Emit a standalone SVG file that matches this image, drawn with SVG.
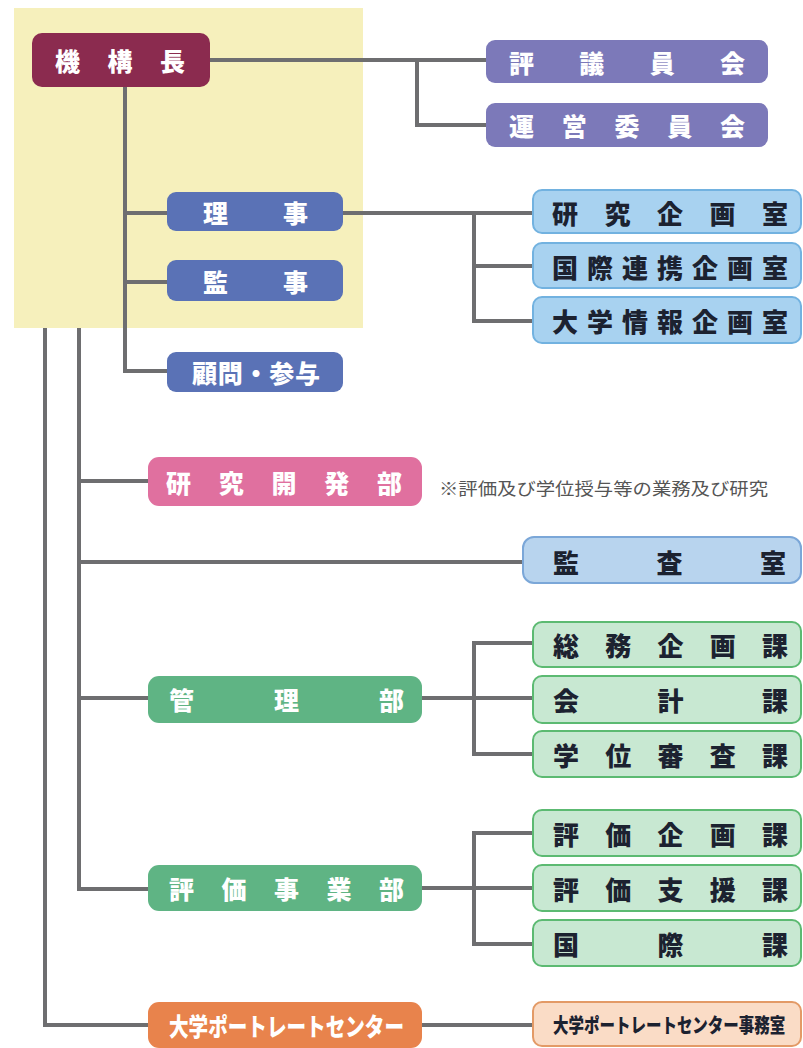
<svg xmlns="http://www.w3.org/2000/svg" width="803" height="1048" viewBox="0 0 803 1048">
<style>
text{font-family:"Noto Sans CJK JP","Noto Sans",sans-serif;font-weight:900;dominant-baseline:central}
.w{fill:#ffffff;font-size:25px}
.d{fill:#1c2230;font-size:26px}
.ln{fill:none;stroke:#6e6e70;stroke-width:4}
.note{fill:#555555;font-size:17px;font-weight:400}
</style>
<rect x="0" y="0" width="803" height="1048" fill="#ffffff"/>
<rect x="14" y="8" width="349" height="320" fill="#f6f0bc"/>
<g id="connectors">
<polyline class="ln" points="210,60 486,60"/>
<polyline class="ln" points="417,60 417,125 486,125"/>
<polyline class="ln" points="125,87 125,371 167,371"/>
<polyline class="ln" points="125,213 167,213"/>
<polyline class="ln" points="125,282 167,282"/>
<polyline class="ln" points="343,213 533,213"/>
<polyline class="ln" points="474,213 474,321 533,321"/>
<polyline class="ln" points="474,266 533,266"/>
<polyline class="ln" points="79,328 79,889 148,889"/>
<polyline class="ln" points="45,328 45,1025 148,1025"/>
<polyline class="ln" points="79,481 148,481"/>
<polyline class="ln" points="79,562 523,562"/>
<polyline class="ln" points="79,698 148,698"/>
<polyline class="ln" points="422,698 533,698"/>
<polyline class="ln" points="533,643 474,643 474,754 533,754"/>
<polyline class="ln" points="422,888 533,888"/>
<polyline class="ln" points="533,833 474,833 474,944 533,944"/>
<polyline class="ln" points="422,1025 533,1025"/>
</g>
<g id="kikoucho"><rect x="32" y="33" width="178" height="54" rx="10" fill="#8b2b4f"/><text class="w" x="55" y="60" textLength="130" lengthAdjust="spacing">機構長</text></g>
<g id="hyogiinkai"><rect x="486" y="40" width="282" height="43" rx="9" fill="#7c79b9"/><text class="w" x="509" y="62" textLength="236" lengthAdjust="spacing">評議員会</text></g>
<g id="uneiiinkai"><rect x="486" y="103" width="282" height="44" rx="9" fill="#7c79b9"/><text class="w" x="509" y="125" textLength="236" lengthAdjust="spacing">運営委員会</text></g>
<g id="riji"><rect x="167" y="192" width="176" height="39" rx="9" fill="#5a72b6"/><text class="w" x="203" y="212" textLength="105" lengthAdjust="spacing">理事</text></g>
<g id="kanji"><rect x="167" y="260" width="176" height="41" rx="9" fill="#5a72b6"/><text class="w" x="203" y="281" textLength="105" lengthAdjust="spacing">監事</text></g>
<g id="komon"><rect x="167" y="352" width="176" height="40" rx="9" fill="#5a72b6"/><text class="w" x="192" y="372" textLength="128" lengthAdjust="spacing">顧問・参与</text></g>
<g id="kenkyukikaku"><rect x="533" y="190" width="268" height="43" rx="9" fill="#a8d2f0" stroke="#72b2e0" stroke-width="2"/><text class="d" x="552" y="212" textLength="236" lengthAdjust="spacing">研究企画室</text></g>
<g id="kokusairenkei"><rect x="533" y="243" width="268" height="45" rx="9" fill="#a8d2f0" stroke="#72b2e0" stroke-width="2"/><text class="d" x="552" y="266" textLength="236" lengthAdjust="spacing">国際連携企画室</text></g>
<g id="daigakujoho"><rect x="533" y="297" width="268" height="46" rx="9" fill="#a8d2f0" stroke="#72b2e0" stroke-width="2"/><text class="d" x="552" y="320" textLength="236" lengthAdjust="spacing">大学情報企画室</text></g>
<g id="kenkyukaihatsu"><rect x="148" y="457" width="274" height="49" rx="11" fill="#e0709f"/><text class="w" x="166" y="482" textLength="236" lengthAdjust="spacing">研究開発部</text><text class="note" x="439" y="487" textLength="329" lengthAdjust="spacingAndGlyphs">※評価及び学位授与等の業務及び研究</text></g>
<g id="kansashitsu"><rect x="523" y="537" width="278" height="46" rx="11" fill="#b8d4ee" stroke="#7ba7d8" stroke-width="2"/><text class="d" x="553" y="561" textLength="233" lengthAdjust="spacing">監査室</text></g>
<g id="kanribu"><rect x="148" y="676" width="274" height="47" rx="11" fill="#5fb484"/><text class="w" x="169" y="699" textLength="235" lengthAdjust="spacing">管理部</text></g>
<g id="somukikaku"><rect x="533" y="622" width="268" height="45" rx="9" fill="#c8e8d2" stroke="#5cba72" stroke-width="2"/><text class="d" x="553" y="644" textLength="235" lengthAdjust="spacing">総務企画課</text></g>
<g id="kaikei"><rect x="533" y="676" width="268" height="47" rx="9" fill="#c8e8d2" stroke="#5cba72" stroke-width="2"/><text class="d" x="553" y="699" textLength="235" lengthAdjust="spacing">会計課</text></g>
<g id="gakuishinsa"><rect x="533" y="731" width="268" height="46" rx="9" fill="#c8e8d2" stroke="#5cba72" stroke-width="2"/><text class="d" x="553" y="754" textLength="235" lengthAdjust="spacing">学位審査課</text></g>
<g id="hyokajigyo"><rect x="148" y="865" width="274" height="46" rx="11" fill="#5fb484"/><text class="w" x="169" y="888" textLength="235" lengthAdjust="spacing">評価事業部</text></g>
<g id="hyokakikaku"><rect x="533" y="810" width="268" height="46" rx="9" fill="#c8e8d2" stroke="#5cba72" stroke-width="2"/><text class="d" x="553" y="833" textLength="235" lengthAdjust="spacing">評価企画課</text></g>
<g id="hyokashien"><rect x="533" y="865" width="268" height="46" rx="9" fill="#c8e8d2" stroke="#5cba72" stroke-width="2"/><text class="d" x="553" y="888" textLength="235" lengthAdjust="spacing">評価支援課</text></g>
<g id="kokusai"><rect x="533" y="920" width="268" height="46" rx="9" fill="#c8e8d2" stroke="#5cba72" stroke-width="2"/><text class="d" x="553" y="943" textLength="235" lengthAdjust="spacing">国際課</text></g>
<g id="portrait"><rect x="148" y="1002" width="274" height="46" rx="11" fill="#e8834c"/><text class="w" x="169" y="1025" font-size="23" textLength="235" lengthAdjust="spacingAndGlyphs">大学ポートレートセンター</text></g>
<g id="portraitoffice"><rect x="533" y="1002" width="268" height="44" rx="9" fill="#fadcc6" stroke="#e39a66" stroke-width="2"/><text class="d" x="0" y="0" transform="translate(553,1024) scale(0.775,1)" style="font-size:20px">大学ポートレートセンター事務室</text></g>
</svg>
